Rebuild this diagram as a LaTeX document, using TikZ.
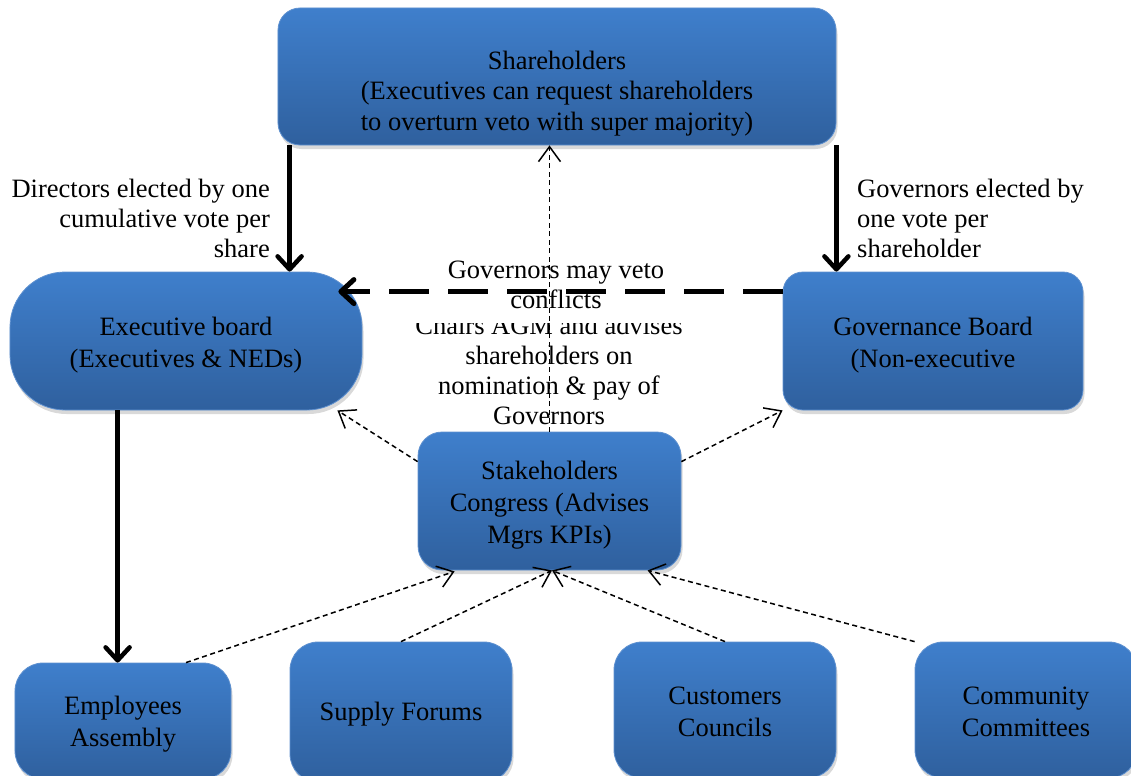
\documentclass[tikz,border=0pt]{standalone}
\usepackage{fontspec}
\setmainfont{Liberation Serif}
\usetikzlibrary{arrows.meta,shadows,calc}
\definecolor{boxtop}{RGB}{63,127,204}
\definecolor{boxbot}{RGB}{47,96,158}
\definecolor{boxedge}{RGB}{95,145,208}
\newcommand\boxfont{\fontsize{26.5bp}{32bp}\selectfont}
\newcommand\shfont{\fontsize{26.5bp}{30.5bp}\selectfont}
\newcommand\lblfont{\fontsize{26.5bp}{30bp}\selectfont}
\begin{document}
\begin{tikzpicture}[x=1bp,y=-1bp,
  box/.style={draw=boxedge, line width=0.8bp, top color=boxtop, bottom color=boxbot,
    rounded corners=#1, drop shadow={shadow xshift=1.5bp, shadow yshift=-4bp, opacity=0.3},
    inner sep=0pt},
  box/.default=22bp,
  txt/.style={align=center, font=\boxfont, inner sep=0pt},
  shtxt/.style={align=center, font=\shfont, inner sep=0pt},
  lbl/.style={font=\lblfont, inner sep=0pt, align=center},
  thickarr/.style={line width=4.5bp, -{Straight Barb[length=13bp,width=24bp,round]}},
  thickdash/.style={line width=5bp, dash pattern=on 40bp off 19bp, -{Straight Barb[length=13bp,width=24bp,round]}},
  thinarr/.style={line width=1.5bp, dash pattern=on 5bp off 3.5bp, -{Straight Barb[length=15bp,width=22bp]}}
]
\useasboundingbox (0,0) rectangle (1131,776);
\clip (0,0) rectangle (1131,776);

% boxes
\node[box=22bp, minimum width=558bp, minimum height=137bp] (sh) at (557,76.5) {};
\node[box=55bp, minimum width=352bp, minimum height=138bp] (eb) at (186,341) {};
\node[box=20bp, minimum width=300bp, minimum height=138bp] (gb) at (933,341) {};
\node[box=24bp, minimum width=263bp, minimum height=138bp] (sc) at (549.5,501) {};
\node[box=28bp, minimum width=216bp, minimum height=116bp] (ea) at (123,721) {};
\node[box=28bp, minimum width=222bp, minimum height=140bp] (sf) at (401,712) {};
\node[box=28bp, minimum width=222bp, minimum height=136bp] (cc) at (725,710) {};
\node[box=28bp, minimum width=222bp, minimum height=136bp] (cm) at (1026,710) {};

% box texts
\node[shtxt] (sht) at ($(sh.center)+(0,17)$) {Shareholders\\(Executives can request shareholders\\to overturn veto with super majority)};
\node[txt] (ebt) at ($(eb.center)+(0,4)$) {Executive board\\(Executives \& NEDs)};
\node[txt] (gbt) at ($(gb.center)+(0,4)$) {Governance Board\\(Non-executive};
\node[txt] (sct) at ($(sc.center)+(0,4)$) {Stakeholders\\Congress (Advises\\Mgrs KPIs)};
\node[txt] (eat) at ($(ea.center)+(0,3)$) {Employees\\Assembly};
\node[txt] (sft) at ($(sf.center)+(0,2)$) {Supply Forums};
\node[txt] (cct) at ($(cc.center)+(0,1.5)$) {Customers\\Councils};
\node[txt] (cmt) at ($(cm.center)+(0,1.5)$) {Community\\Committees};

% labels
\node[lbl, anchor=east, align=right] (l1) at (270,218) {Directors elected by one\\cumulative vote per\\share};
\node[lbl, anchor=west, align=left] (l2) at (857,218) {Governors elected by\\one vote per\\shareholder};
\node[lbl] (l4) at (549,370) {Chairs AGM and advises\\shareholders on\\nomination \& pay of\\Governors};
\node[lbl, fill=white, minimum width=286bp, inner ysep=15bp] (l3) at (556,284.5) {Governors may veto\\conflicts};

% connectors
\draw[thickarr] ($(sh.south west)+(12,0)$) -- ($(sh.south west |- eb.north)+(12,0)$);
\draw[thickarr] (sh.south east) -- (sh.south east |- gb.north);
\draw[thickdash] ($(gb.north west)+(0,20)$) -- ($(eb.north east)+(-24,20)$);
\draw[thickarr] ($(eb.south west)+(108,0)$) -- ($(eb.south west |- ea.north)+(108,0)$);

\draw[thinarr] (sc.north) -- (sc.north |- sh.south);
\draw[thinarr] ($(sc.north west)+(0,30)$) -- ($(eb.south east)+(-25,0)$);
\draw[thinarr] ($(sc.north east)+(0,30)$) -- (gb.south west);
\draw[thinarr] ($(ea.north)+(63,0)$) -- ($(sc.south west)+(37,1)$);
\draw[thinarr] (sf.north) -- ($(sc.south)+(2.5,0)$);
\draw[thinarr] (cc.north) -- ($(sc.south)+(2.5,0)$);
\draw[thinarr] (cm.north west) -- ($(sc.south west)+(230,0)$);
\end{tikzpicture}
\end{document}
